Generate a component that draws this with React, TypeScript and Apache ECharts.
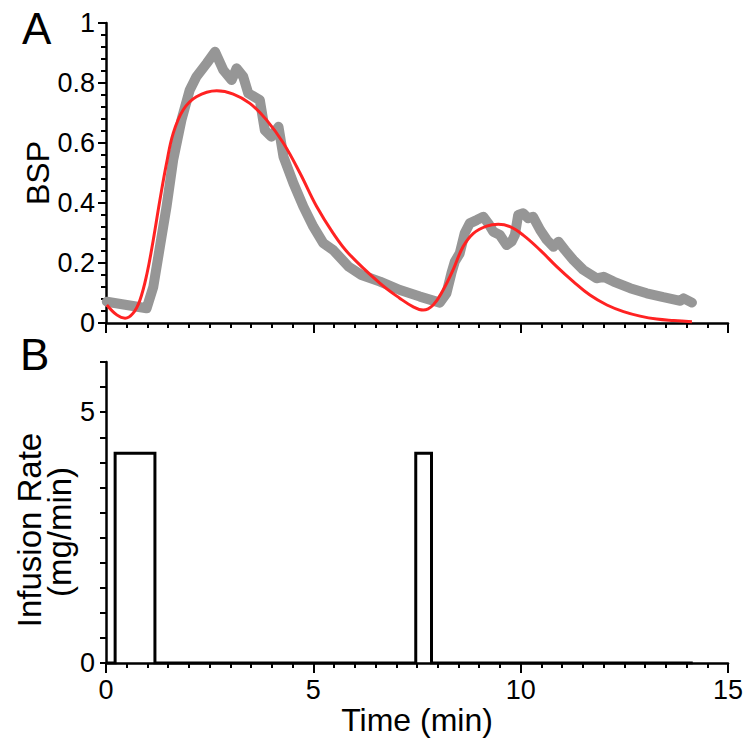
import React, { useEffect, useRef } from "react";
import * as echarts from "echarts";

// Measured BSP (gray): time (min), value
const measTime = [0.02, 0.98, 1.14, 1.3, 1.46, 1.62, 1.82, 2.02, 2.18, 2.43, 2.63, 2.83, 3.03, 3.15, 3.31, 3.43, 3.71, 3.83, 3.99, 4.16, 4.28, 4.52, 4.76, 5.0, 5.24, 5.48, 5.85, 6.16, 6.61, 7.09, 7.57, 8.05, 8.21, 8.33, 8.41, 8.53, 8.65, 8.77, 8.94, 9.1, 9.22, 9.34, 9.5, 9.66, 9.78, 9.86, 9.94, 10.06, 10.18, 10.3, 10.47, 10.63, 10.79, 10.91, 11.07, 11.27, 11.51, 11.83, 12.0, 12.24, 12.64, 13.04, 13.44, 13.85, 13.93, 14.13];
const measBSP = [0.071, 0.049, 0.12, 0.254, 0.388, 0.543, 0.677, 0.777, 0.821, 0.866, 0.904, 0.843, 0.81, 0.849, 0.821, 0.766, 0.743, 0.643, 0.621, 0.654, 0.554, 0.466, 0.388, 0.321, 0.266, 0.243, 0.188, 0.16, 0.138, 0.11, 0.088, 0.068, 0.099, 0.166, 0.204, 0.232, 0.299, 0.332, 0.343, 0.354, 0.332, 0.304, 0.293, 0.26, 0.271, 0.293, 0.36, 0.366, 0.349, 0.354, 0.31, 0.277, 0.254, 0.271, 0.243, 0.21, 0.177, 0.149, 0.154, 0.138, 0.116, 0.099, 0.086, 0.074, 0.082, 0.068];

// Model fit (red)
const fitTime = [0.02, 0.26, 0.46, 0.65, 0.82, 0.99, 1.14, 1.3, 1.46, 1.62, 1.86, 2.18, 2.67, 3.07, 3.47, 3.87, 4.28, 4.68, 5.08, 5.48, 5.85, 6.61, 7.09, 7.41, 7.65, 7.89, 8.13, 8.37, 8.61, 8.86, 9.18, 9.46, 9.74, 10.06, 10.47, 10.87, 11.27, 11.67, 12.08, 12.48, 12.88, 13.28, 13.69, 14.13];
const fitBSP = [0.06, 0.027, 0.016, 0.032, 0.077, 0.166, 0.277, 0.41, 0.532, 0.632, 0.71, 0.754, 0.774, 0.763, 0.732, 0.677, 0.599, 0.499, 0.388, 0.299, 0.232, 0.132, 0.082, 0.054, 0.043, 0.06, 0.11, 0.177, 0.254, 0.299, 0.323, 0.329, 0.321, 0.293, 0.243, 0.188, 0.138, 0.093, 0.06, 0.038, 0.023, 0.013, 0.008, 0.004];

// Infusion pulses
const pulseStart = [0.22, 7.47];
const pulseEnd = [1.18, 7.85];
const pulseRate = [4.18, 4.18];
const infusionEnd = 14.15;

const FONT = "'Liberation Sans', Arial, Helvetica, sans-serif";

export default function App() {
  const ref = useRef<HTMLDivElement>(null);
  useEffect(() => {
    if (!ref.current) return;
    const chart = echarts.init(ref.current, null, { renderer: "svg" });

    const meas = measTime.map((t, i) => [t, measBSP[i]]);
    const fit = fitTime.map((t, i) => [t, fitBSP[i]]);
    const inf: number[][] = [[0, 0]];
    pulseStart.forEach((s, i) => {
      inf.push([s, 0], [s, pulseRate[i]], [pulseEnd[i], pulseRate[i]], [pulseEnd[i], 0]);
    });
    inf.push([infusionEnd, 0]);

    const axisLine = { show: true, onZero: false, lineStyle: { color: "#000", width: 2.5 } };
    const xCommon = {
      type: "value",
      min: 0,
      max: 15,
      interval: 5,
      axisLine,
      axisTick: { show: true, length: 10, lineStyle: { color: "#000", width: 2 } },
      minorTick: { show: true, splitNumber: 10, length: 5, lineStyle: { color: "#000", width: 2 } },
      splitLine: { show: false },
    };
    const labelStyle = { color: "#000", fontSize: 27, fontFamily: FONT };

    chart.setOption({
      animation: false,
      backgroundColor: "#fff",
      grid: [
        { left: 106, right: 22, top: 23, height: 300 },
        { left: 106, right: 22, top: 362, height: 301 },
      ],
      xAxis: [
        { ...xCommon, gridIndex: 0, axisLabel: { show: false } },
        {
          ...xCommon,
          gridIndex: 1,
          axisLabel: { ...labelStyle, margin: 13 },
          name: "Time (min)",
          nameLocation: "middle",
          nameGap: 38,
          nameTextStyle: { color: "#000", fontSize: 32, fontFamily: FONT },
        },
      ],
      yAxis: [
        {
          type: "value",
          gridIndex: 0,
          min: 0,
          max: 1,
          interval: 0.2,
          axisLine,
          axisTick: { show: true, length: 8, lineStyle: { color: "#000", width: 2 } },
          minorTick: { show: true, splitNumber: 5, length: 5, lineStyle: { color: "#000", width: 2 } },
          splitLine: { show: false },
          axisLabel: { ...labelStyle, margin: 11, formatter: (v: number) => String(+v.toFixed(1)) },
        },
        {
          type: "value",
          gridIndex: 1,
          min: 0,
          max: 6,
          interval: 0.5,
          axisLine,
          axisTick: { show: true, length: 6, lineStyle: { color: "#000", width: 2 } },
          splitLine: { show: false },
          axisLabel: {
            ...labelStyle,
            margin: 11,
            formatter: (v: number) => (v === 0 || v === 5 ? String(v) : ""),
          },
        },
      ],
      graphic: [
        { type: "text", left: 22, top: 6, style: { text: "A", fontSize: 44, fill: "#000", fontFamily: FONT } },
        { type: "text", left: 20, top: 332, style: { text: "B", fontSize: 44, fill: "#000", fontFamily: FONT } },
        {
          type: "text", x: 38, y: 173, rotation: Math.PI / 2,
          style: { text: "BSP", fontSize: 32, fill: "#000", fontFamily: FONT, align: "center", verticalAlign: "middle" },
        },
        {
          type: "text", x: 29, y: 530, rotation: Math.PI / 2,
          style: { text: "Infusion Rate", fontSize: 33, fill: "#000", fontFamily: FONT, align: "center", verticalAlign: "middle" },
        },
        {
          type: "text", x: 59, y: 532, rotation: Math.PI / 2,
          style: { text: "(mg/min)", fontSize: 33, fill: "#000", fontFamily: FONT, align: "center", verticalAlign: "middle" },
        },
      ],
      series: [
        {
          type: "line", xAxisIndex: 0, yAxisIndex: 0, data: meas, showSymbol: false, symbol: "none",
          lineStyle: { color: "#969696", width: 10, cap: "round", join: "round" },
          z: 2,
        },
        {
          type: "line", xAxisIndex: 0, yAxisIndex: 0, data: fit, showSymbol: false, symbol: "none", smooth: 0.4,
          lineStyle: { color: "#ff2222", width: 3 },
          z: 3,
        },
        {
          type: "line", xAxisIndex: 1, yAxisIndex: 1, data: inf, showSymbol: false, symbol: "none",
          lineStyle: { color: "#000", width: 3, join: "miter" },
          z: 3,
        },
      ],
    });
    return () => chart.dispose();
  }, []);
  return <div ref={ref} style={{ position: "absolute", left: 0, top: 0, width: 750, height: 754 }} />;
}
